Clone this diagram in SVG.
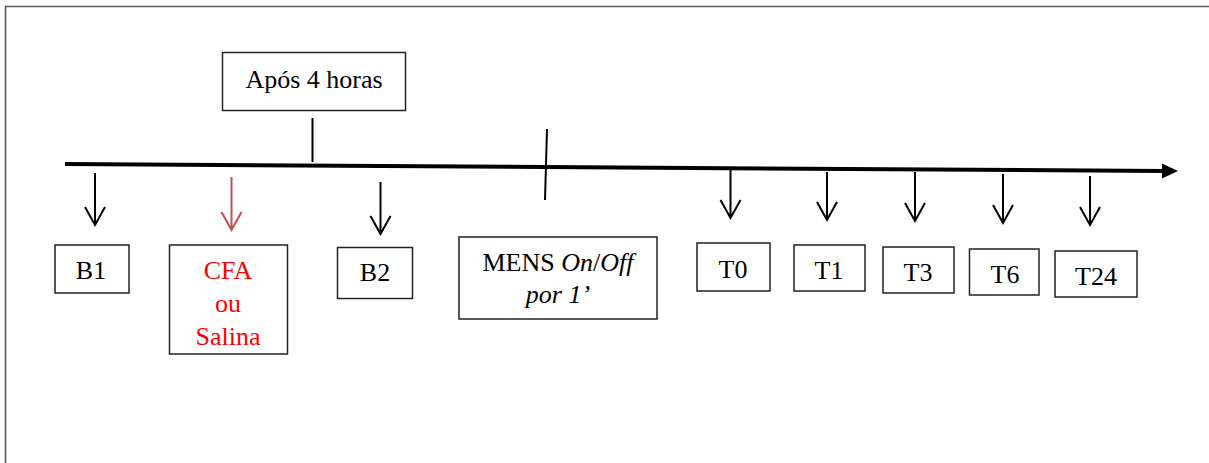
<svg xmlns="http://www.w3.org/2000/svg" width="1209" height="463" viewBox="0 0 1209 463">
<style>
.box{fill:#fff;stroke:#222;stroke-width:1.5}
.t{font-family:"Liberation Serif","Times New Roman",serif;font-size:26px;fill:#000;text-anchor:middle}
.red{fill:#ff0000}
.arr{fill:none;stroke:#000;stroke-width:2}
.arrR{fill:none;stroke:#c0504d;stroke-width:2}
</style>
<rect x="0" y="0" width="1209" height="463" fill="#fff"/>
<path d="M5.5 463 V6.5 H1209" fill="none" stroke="#555" stroke-width="1.5"/>
<g id="connectors">
<path d="M65 164 L1164 171" stroke="#000" stroke-width="4" fill="none"/>
<polygon points="1162,163.5 1178,171 1162,178.5" fill="#000"/>
<line x1="312.5" y1="118" x2="312.5" y2="162" stroke="#000" stroke-width="2"/>
<line x1="547" y1="129" x2="545" y2="200" stroke="#000" stroke-width="2"/>
<path class="arr" d="M95 173 V225 M85 207 L95 225 L105 207"/>
<path class="arrR" d="M231.5 177 V230 M221.5 212 L231.5 230 L241.5 212"/>
<path class="arr" d="M380.5 182 V234 M370.5 216 L380.5 234 L390.5 216"/>
<path class="arr" d="M730.5 170 V218 M720.5 200 L730.5 218 L740.5 200"/>
<path class="arr" d="M827 172 V220 M817 202 L827 220 L837 202"/>
<path class="arr" d="M915 172 V221 M905 203 L915 221 L925 203"/>
<path class="arr" d="M1003 174 V223 M993 205 L1003 223 L1013 205"/>
<path class="arr" d="M1090 176 V225 M1080 207 L1090 225 L1100 207"/>
</g>
<g id="apos"><rect class="box" x="222.5" y="52.5" width="183" height="58"/><text class="t" x="314" y="88">Após 4 horas</text></g>
<g id="b1"><rect class="box" x="55" y="245" width="74" height="48"/><text class="t" x="91" y="279">B1</text></g>
<g id="cfa"><rect class="box" x="169.5" y="245" width="118" height="109"/><text class="t red" x="228" y="279">CFA</text><text class="t red" x="228" y="312">ou</text><text class="t red" x="228" y="345">Salina</text></g>
<g id="b2"><rect class="box" x="337.5" y="247.5" width="75" height="51"/><text class="t" x="375" y="281">B2</text></g>
<g id="mens"><rect class="box" x="459" y="237" width="198" height="82"/><text class="t" x="558" y="271">MENS <tspan font-style="italic">On</tspan>/<tspan font-style="italic">Off</tspan></text><text class="t" x="558" y="303" font-style="italic">por 1’</text></g>
<g id="t0"><rect class="box" x="697" y="243" width="73" height="48"/><text class="t" x="733" y="278">T0</text></g>
<g id="t1"><rect class="box" x="794" y="245" width="71" height="46"/><text class="t" x="829" y="279">T1</text></g>
<g id="t3"><rect class="box" x="883" y="247" width="71" height="46"/><text class="t" x="918" y="281">T3</text></g>
<g id="t6"><rect class="box" x="969.5" y="249" width="69.5" height="46"/><text class="t" x="1005" y="283">T6</text></g>
<g id="t24"><rect class="box" x="1055" y="251" width="82" height="46"/><text class="t" x="1096" y="285">T24</text></g>
</svg>
